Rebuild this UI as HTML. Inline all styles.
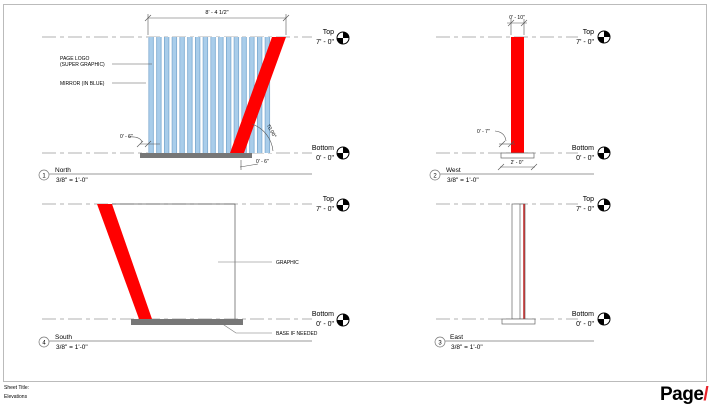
<!DOCTYPE html>
<html><head><style>
html,body{margin:0;padding:0;background:#fff;}
svg{display:block;font-family:"Liberation Sans",sans-serif;}
</style></head><body>
<svg width="710" height="406" viewBox="0 0 710 406" xmlns="http://www.w3.org/2000/svg">
<defs>
<g id="lvl">
<circle cx="0" cy="0" r="6" fill="#fff" stroke="#000" stroke-width="1"/>
<path d="M0,0 L6,0 A6,6 0 0 0 0,-6 Z" fill="#000"/>
<path d="M0,0 L-6,0 A6,6 0 0 0 0,6 Z" fill="#000"/>
</g>
<pattern id="stripes" x="148" y="0" width="7.75" height="10" patternUnits="userSpaceOnUse">
<rect x="0" y="0" width="7.75" height="10" fill="#fff"/>
<rect x="0.5" y="0" width="5.2" height="10" fill="#a9cdea"/>
<rect x="0.5" y="0" width="0.6" height="10" fill="#6a9cc6"/>
<rect x="5.1" y="0" width="0.6" height="10" fill="#6a9cc6"/>
</pattern>
</defs>
<rect x="3.5" y="4.5" width="703" height="377" fill="none" stroke="#bbb" stroke-width="1"/>

<g stroke="#999" stroke-width="0.8" stroke-dasharray="14,4,4,4" fill="none">
<line x1="42" y1="37" x2="312" y2="37"/><line x1="42" y1="153" x2="312" y2="153"/>
<line x1="436" y1="37" x2="578" y2="37"/><line x1="436" y1="153" x2="578" y2="153"/>
<line x1="42" y1="204" x2="312" y2="204"/><line x1="42" y1="319" x2="312" y2="319"/>
<line x1="436" y1="204" x2="578" y2="204"/><line x1="436" y1="319" x2="578" y2="319"/>
</g>

<!-- NORTH -->
<rect x="148" y="37" width="124" height="116" fill="url(#stripes)"/>
<polygon points="272,37 286,37 244,153 230,153" fill="#f00"/>
<rect x="140" y="153" width="112" height="5" fill="#777"/>
<g stroke="#555" stroke-width="0.6" fill="none">
<line x1="148" y1="18" x2="286" y2="18"/>
<line x1="148" y1="14" x2="148" y2="35"/><line x1="286" y1="14" x2="286" y2="35"/>
<line x1="145" y1="21" x2="151" y2="15"/><line x1="283" y1="21" x2="289" y2="15"/>
<line x1="112" y1="64" x2="152" y2="64"/><line x1="112" y1="83" x2="146" y2="83"/>
<path d="M252,124 A32,32 0 0 1 273,151"/>
<line x1="140" y1="144" x2="160" y2="144"/>
<line x1="137" y1="147" x2="143" y2="141"/><line x1="145" y1="147" x2="151" y2="141"/>
<path d="M128,137 Q140,136 142,142"/>
<line x1="240" y1="167" x2="258" y2="164"/>
<line x1="241" y1="160" x2="241" y2="170"/>
</g>
<text x="217" y="14" font-size="5.5" text-anchor="middle">8' - 4 1/2"</text>
<text x="60" y="60" font-size="5">PAGE LOGO</text>
<text x="60" y="66" font-size="5">(SUPER GRAPHIC)</text>
<text x="60" y="85" font-size="5">MIRROR (IN BLUE)</text>
<text x="120" y="138" font-size="5">0' - 6"</text>
<text x="256" y="163" font-size="5">0' - 6"</text>
<text x="265" y="128" font-size="5" transform="rotate(60 268 128)">70.00°</text>

<!-- WEST -->
<rect x="511" y="37" width="13" height="116" fill="#f00"/>
<rect x="501" y="153" width="33" height="5" fill="#fff" stroke="#666" stroke-width="0.7"/>
<g stroke="#555" stroke-width="0.6" fill="none">
<line x1="507" y1="23" x2="527" y2="23"/>
<line x1="511" y1="19" x2="511" y2="35"/><line x1="524" y1="19" x2="524" y2="35"/>
<line x1="508" y1="26" x2="514" y2="20"/><line x1="521" y1="26" x2="527" y2="20"/>
<line x1="500" y1="167" x2="535" y2="167"/>
<line x1="498" y1="170" x2="504" y2="164"/><line x1="531" y1="170" x2="537" y2="164"/>
<line x1="499" y1="144" x2="515" y2="144"/>
<line x1="499" y1="147" x2="505" y2="141"/><line x1="508" y1="147" x2="514" y2="141"/>
<path d="M495,131 Q505,132 506,141"/>
</g>
<text x="517" y="19" font-size="5" text-anchor="middle">0' - 10"</text>
<text x="517" y="164" font-size="5" text-anchor="middle">2' - 0"</text>
<text x="477" y="133" font-size="5">0' - 7"</text>

<!-- SOUTH -->
<path d="M112,204 L235,204 L235,319" fill="none" stroke="#555" stroke-width="0.7"/>
<polygon points="97,204 112,204 152,319 139,319" fill="#f00"/>
<rect x="131" y="319" width="112" height="6" fill="#777"/>
<g stroke="#777" stroke-width="0.6" fill="none">
<line x1="218" y1="262" x2="272" y2="262"/>
<polyline points="218,321 236,333 272,333"/>
</g>
<text x="276" y="264" font-size="5">GRAPHIC</text>
<text x="276" y="335" font-size="5">BASE IF NEEDED</text>

<!-- EAST -->
<rect x="512" y="204" width="13" height="115" fill="#fff" stroke="#666" stroke-width="0.7"/>
<line x1="520" y1="204" x2="520" y2="319" stroke="#666" stroke-width="0.7"/>
<line x1="524" y1="204" x2="524" y2="319" stroke="#b22" stroke-width="1.5"/>
<rect x="502" y="319" width="33" height="5" fill="#fff" stroke="#666" stroke-width="0.7"/>

<!-- level markers -->
<g font-size="7" text-anchor="end">
<text x="334" y="34">Top</text><text x="334" y="44">7' - 0"</text>
<text x="334" y="150">Bottom</text><text x="334" y="160">0' - 0"</text>
<text x="334" y="201">Top</text><text x="334" y="211">7' - 0"</text>
<text x="334" y="316">Bottom</text><text x="334" y="326">0' - 0"</text>
<text x="594" y="34">Top</text><text x="594" y="44">7' - 0"</text>
<text x="594" y="150">Bottom</text><text x="594" y="160">0' - 0"</text>
<text x="594" y="201">Top</text><text x="594" y="211">7' - 0"</text>
<text x="594" y="316">Bottom</text><text x="594" y="326">0' - 0"</text>
</g>
<use href="#lvl" x="343" y="38"/><use href="#lvl" x="343" y="153"/>
<use href="#lvl" x="343" y="205"/><use href="#lvl" x="343" y="320"/>
<use href="#lvl" x="604" y="37"/><use href="#lvl" x="604" y="153"/>
<use href="#lvl" x="604" y="205"/><use href="#lvl" x="604" y="319"/>

<!-- titles -->
<g stroke="#777" stroke-width="0.7" fill="#fff">
<circle cx="44" cy="175" r="5"/><line x1="49" y1="174" x2="312" y2="174"/>
<circle cx="435" cy="175" r="5"/><line x1="440" y1="174" x2="594" y2="174"/>
<circle cx="44" cy="342" r="5"/><line x1="49" y1="341" x2="312" y2="341"/>
<circle cx="440" cy="342" r="5"/><line x1="445" y1="341" x2="594" y2="341"/>
</g>
<g font-size="6.5">
<text x="44" y="177.5" text-anchor="middle" font-size="6">1</text>
<text x="55" y="172">North</text><text x="56" y="182">3/8" = 1'-0"</text>
<text x="435" y="177.5" text-anchor="middle" font-size="6">2</text>
<text x="446" y="172">West</text><text x="447" y="182">3/8" = 1'-0"</text>
<text x="44" y="344.5" text-anchor="middle" font-size="6">4</text>
<text x="55" y="339">South</text><text x="56" y="349">3/8" = 1'-0"</text>
<text x="440" y="344.5" text-anchor="middle" font-size="6">3</text>
<text x="450" y="339">East</text><text x="451" y="349">3/8" = 1'-0"</text>
</g>

<!-- footer -->
<text x="4" y="389" font-size="5">Sheet Title:</text>
<text x="4" y="398" font-size="5">Elevations</text>
<text x="660" y="400" font-size="19" font-weight="bold" letter-spacing="-0.5">Page<tspan fill="#e8232a">/</tspan></text>
</svg>
</body></html>
